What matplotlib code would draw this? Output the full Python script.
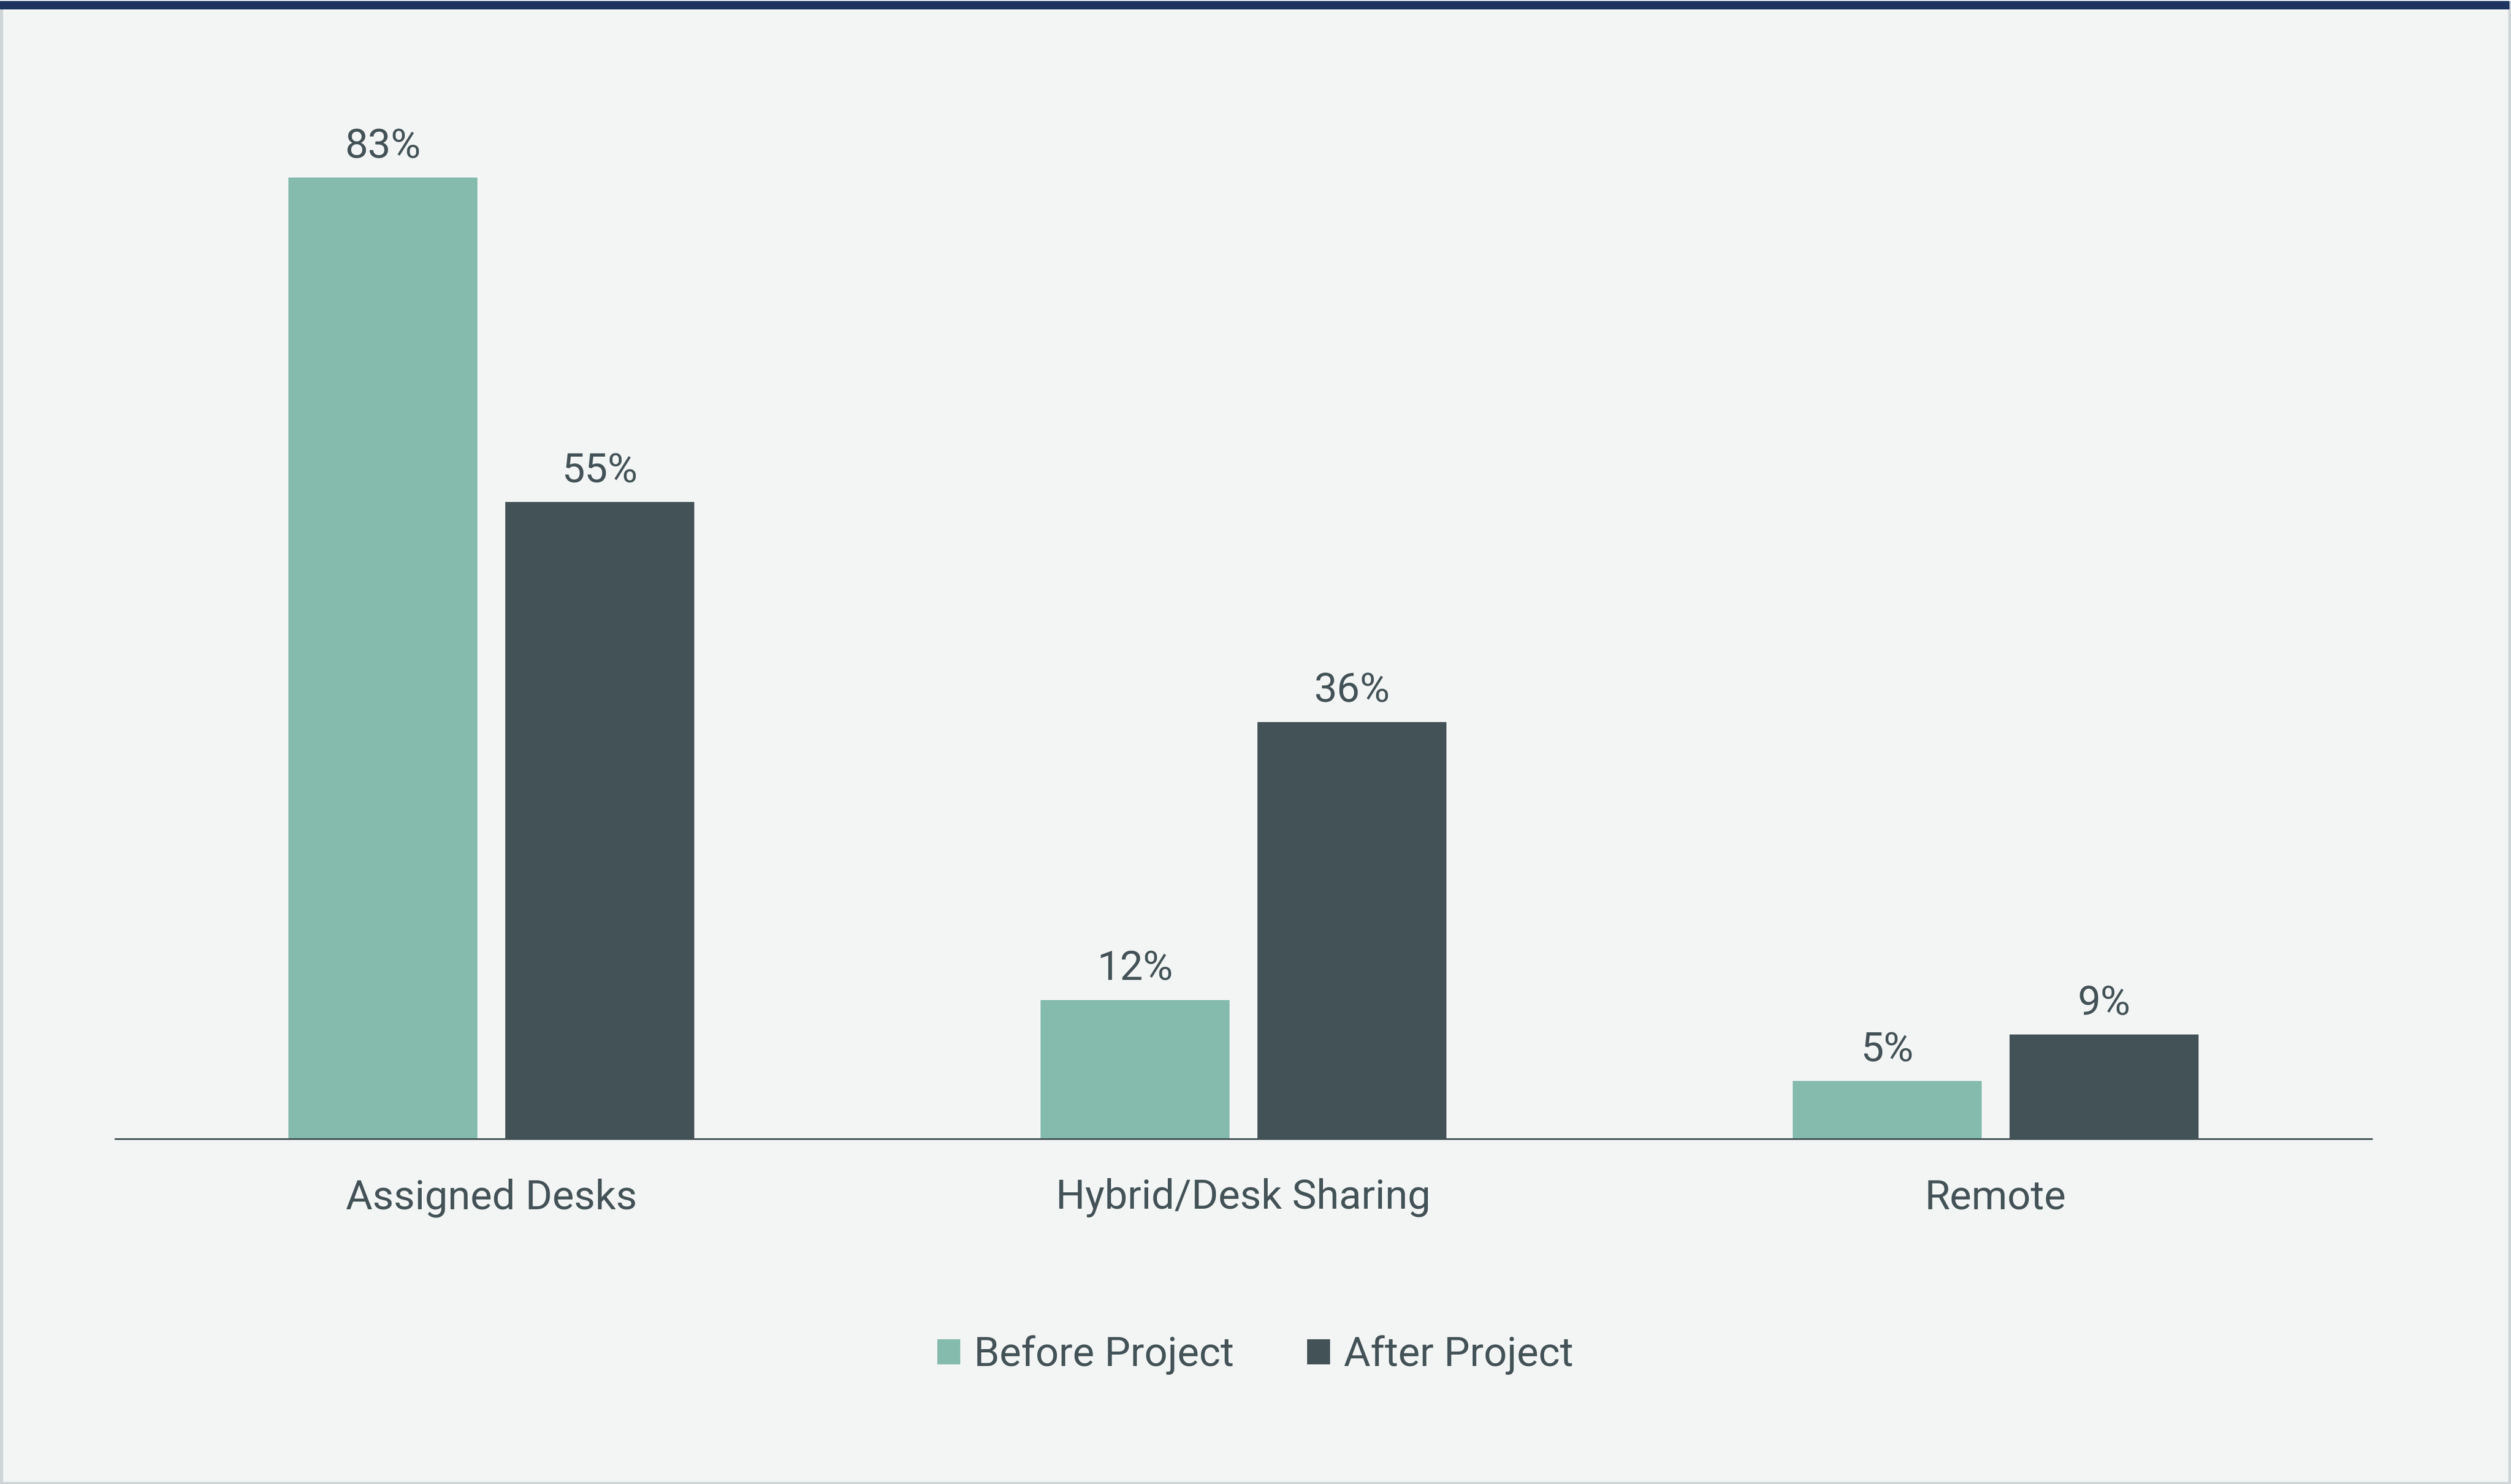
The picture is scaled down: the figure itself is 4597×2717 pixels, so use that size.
import numpy as np
import matplotlib.pyplot as plt
from matplotlib.patches import Rectangle

categories = ['Assigned Desks', 'Hybrid/Desk Sharing', 'Remote']
before = [83, 12, 5]
after = [55, 36, 9]
series_names = ['Before Project', 'After Project']

TEAL = '#84bbad'
DARK = '#435256'
BG = '#f3f5f4'
NAVY = '#1d3461'
EDGE = '#cdd5d6'

W, H = 4597, 2717
plt.rcParams['font.family'] = ['Roboto', 'DejaVu Sans']

fig = plt.figure(figsize=(W / 100, H / 100), dpi=100)
fig.patch.set_facecolor('white')

# card background + borders (pixel coords -> figure fraction)
def px_rect(x0, y0, x1, y1, color):
    fig.patches.append(Rectangle((x0 / W, 1 - y1 / H), (x1 - x0) / W, (y1 - y0) / H,
                                 transform=fig.transFigure, color=color, zorder=-5))

px_rect(0, 2, W, H, EDGE)
px_rect(6, 16, 4591, 2712, BG)
px_rect(0, 2, 4593, 16, NAVY)

ax = fig.add_axes([211 / W, 1 - 2085 / H, (4342 - 211) / W, (2085 - 177) / H])
ax.set_facecolor('none')

x = np.arange(len(categories))
width = 0.251
off = 0.144
b1 = ax.bar(x - off, before, width, color=TEAL, label=series_names[0])
b2 = ax.bar(x + off, after, width, color=DARK, label=series_names[1])

for bars, vals in [(b1, before), (b2, after)]:
    ax.bar_label(bars, labels=[f'{v}%' for v in vals], padding=15,
                 fontsize=54, color=DARK)

ax.set_xlim(-0.5, 2.5)
ax.set_ylim(0, 90)
ax.set_xticks(x, categories)
ax.tick_params(axis='x', length=0, pad=52, labelsize=54, labelcolor=DARK)
ax.set_yticks([])
for s in ['top', 'right', 'left']:
    ax.spines[s].set_visible(False)
ax.spines['bottom'].set_color(DARK)
ax.spines['bottom'].set_linewidth(2.2)

fig.legend(handles=[b1, b2], loc='center', bbox_to_anchor=(0.5, 1 - 2481 / H),
           ncol=2, frameon=False, fontsize=54, labelcolor=DARK,
           handlelength=0.56, handleheight=0.57, handletextpad=0.33,
           columnspacing=1.79)

fig.savefig('out.png', dpi=100, facecolor=fig.get_facecolor())
